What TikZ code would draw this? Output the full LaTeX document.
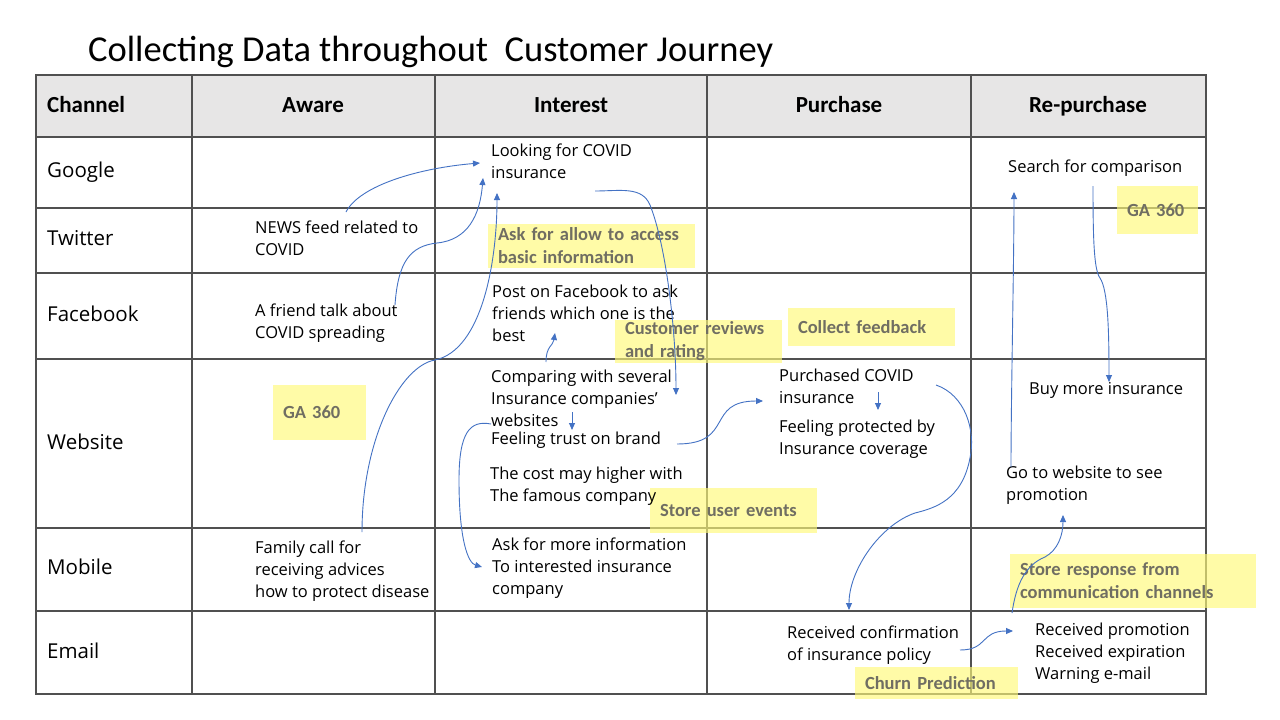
\documentclass[tikz,border=0pt]{standalone}
\usepackage{fontspec}
\setmainfont{Open Sans}
\newfontfamily\calfont{Carlito}
\usetikzlibrary{arrows.meta}

\definecolor{tableline}{RGB}{80,80,80}
\definecolor{headfill}{RGB}{231,230,230}
\definecolor{arrowblue}{RGB}{68,114,196}
\definecolor{hlyellow}{RGB}{255,250,120}
\definecolor{labgray}{RGB}{112,110,98}

\tikzset{
  grid/.style={draw=tableline, line width=1.2pt},
  cell/.style={anchor=north west, inner sep=0pt, align=left, font=\fontsize{16.5}{22}\selectfont},
  chan/.style={anchor=base west, inner sep=0pt, font=\fontsize{20.5}{24}\selectfont},
  head/.style={anchor=base, inner sep=0pt, font=\calfont\bfseries\fontsize{23}{26}\selectfont},
  hilite/.style={fill=hlyellow, fill opacity=0.65, text opacity=1, text=labgray, inner xsep=10pt, inner ysep=0pt,
    align=left, font=\calfont\bfseries\fontsize{18.5}{23}\selectfont},
  flow/.style={draw=arrowblue, line width=0.9pt, -{Triangle[length=7pt,width=6pt]}}
}

\begin{document}
\begin{tikzpicture}[x=1pt, y=-1pt]
    \useasboundingbox[fill=white] (0,0) rectangle (1280,720);

    \node[anchor=base west, inner sep=0pt, font=\calfont\fontsize{36.5}{40}\selectfont] (title) at (88,61) {Collecting Data throughout\ \ Customer Journey};

    \fill[headfill] (36,75) rectangle (1206,137);

    \draw[grid] (36,75) rectangle (1206,694);
    \draw[grid] (36,137)--(1206,137);
    \draw[grid] (36,208)--(1206,208);
    \draw[grid] (36,273)--(1206,273);
    \draw[grid] (36,359)--(1206,359);
    \draw[grid] (36,528)--(1206,528);
    \draw[grid] (36,611)--(1206,611);
    \draw[grid] (192,75)--(192,694);
    \draw[grid] (435,75)--(435,694);
    \draw[grid] (707,75)--(707,694);
    \draw[grid] (971,75)--(971,694);

    \node[head, anchor=base west] (hChannel) at (47,112) {Channel};
    \node[head] (hAware) at (313,112) {Aware};
    \node[head] (hInterest) at (571,112) {Interest};
    \node[head] (hPurchase) at (839,112) {Purchase};
    \node[head] (hRepurchase) at (1088,112) {Re-purchase};

    \node[chan] (cGoogle) at (47,177) {Google};
    \node[chan] (cTwitter) at (47,245) {Twitter};
    \node[chan] (cFacebook) at (47,321) {Facebook};
    \node[chan] (cWebsite) at (47,449) {Website};
    \node[chan] (cMobile) at (47,574) {Mobile};
    \node[chan] (cEmail) at (47,658) {Email};

    \node[hilite, minimum width=207pt, minimum height=44pt, text width=187pt] (yAsk) at (591.5,246) {Ask for allow to access\\basic information};
    \node[hilite, minimum width=167pt, minimum height=43pt, text width=147pt] (yReview) at (698.5,341.5) {Customer reviews\\and rating};
    \node[hilite, minimum width=167pt, minimum height=38pt, text width=147pt] (yFeedback) at (871.5,327) {Collect feedback};
    \node[hilite, minimum width=81pt, minimum height=48pt, text width=61pt] (yGaRight) at (1157.5,210) {GA 360};
    \node[hilite, minimum width=93pt, minimum height=55pt, text width=73pt] (yGaLeft) at (319.5,412.5) {GA 360};
    \node[hilite, minimum width=167pt, minimum height=45pt, text width=147pt] (yEvents) at (733.5,510.5) {Store user events};
    \node[hilite, minimum width=246pt, minimum height=54pt, text width=226pt] (yResponse) at (1133,581) {Store response from\\communication channels};
    \node[hilite, minimum width=163pt, minimum height=32pt, text width=143pt] (yChurn) at (936.5,683) {Churn Prediction};

    \node[cell] (tLook) at (491,144) {Looking for COVID\\insurance};
    \node[cell] (tNews) at (255,221) {NEWS feed related to\\COVID};
    \node[cell] (tPost) at (492,285) {Post on Facebook to ask\\friends which one is the\\best};
    \node[cell] (tFriend) at (255,304) {A friend talk about\\COVID spreading};
    \node[cell] (tCompare) at (491,370) {Comparing with several\\Insurance companies’\\websites};
    \node[cell] (tTrust) at (491,432) {Feeling trust on brand};
    \node[cell] (tCost) at (490,467) {The cost may higher with\\The famous company};
    \node[cell] (tPurch) at (779,369) {Purchased COVID\\insurance};
    \node[cell] (tProt) at (779,420) {Feeling protected by\\Insurance coverage};
    \node[cell] (tSearch) at (1008,160) {Search for comparison};
    \node[cell] (tBuyMore) at (1029,382) {Buy more insurance};
    \node[cell] (tGoWeb) at (1006,466) {Go to website to see\\promotion};
    \node[cell] (tFamily) at (255,541) {Family call for\\receiving advices\\how to protect disease};
    \node[cell] (tAskMore) at (492,538) {Ask for more information\\To interested insurance\\company};
    \node[cell] (tConfirm) at (787,626) {Received confirmation\\of insurance policy};
    \node[cell] (tPromo) at (1035,623) {Received promotion\\Received expiration\\Warning e-mail};

    \coordinate (newsOut) at (346,212);
    \coordinate (lookInA) at (480,163);
    \coordinate (friendOut) at (395,305);
    \coordinate (lookInB) at (483,178);
    \coordinate (familyOut) at (362,532);
    \coordinate (lookInC) at (497,193);
    \coordinate (lookOut) at (595,191);
    \coordinate (compareIn) at (676,395);
    \coordinate (compareUp) at (546,362);
    \coordinate (postIn) at (555,333);
    \coordinate (siteOut) at (572,412);
    \coordinate (trustIn) at (572,430);
    \coordinate (webOut) at (491,424);
    \coordinate (askMoreIn) at (482,567);
    \coordinate (trustOut) at (677,444);
    \coordinate (purchIn) at (763,401);
    \coordinate (purchDown) at (878,392);
    \coordinate (protIn) at (878,410);
    \coordinate (purchOut) at (936,385);
    \coordinate (confirmIn) at (849,610);
    \coordinate (confirmOut) at (960,650);
    \coordinate (promoIn) at (1013,631);
    \coordinate (promoUp) at (1012,613);
    \coordinate (goWebIn) at (1063,515);
    \coordinate (goWebOut) at (1011,467);
    \coordinate (searchIn) at (1014,192);
    \coordinate (searchOut) at (1093,186);
    \coordinate (buyMoreIn) at (1109,382);

    \draw[flow] (newsOut) .. controls (360,185) and (420,168) .. (lookInA);
    \draw[flow] (friendOut) .. controls (398,262) and (410,246) .. (437,243) .. controls (468,240) and (480,215) .. (lookInB);
    \draw[flow] (familyOut) .. controls (362,440) and (400,366) .. (435,360) .. controls (482,350) and (497,262) .. (lookInC);
    \draw[flow] (lookOut) .. controls (620,191) and (642,186) .. (650,205) .. controls (666,245) and (676,330) .. (compareIn);
    \draw[flow] (compareUp) .. controls (546,346) and (553,346) .. (postIn);
    \draw[flow] (siteOut) -- (trustIn);
    \draw[flow] (webOut) .. controls (470,420) and (459,432) .. (459,480) .. controls (459,540) and (468,563) .. (askMoreIn);
    \draw[flow] (trustOut) .. controls (735,444) and (705,401) .. (purchIn);
    \draw[flow] (purchDown) -- (protIn);
    \draw[flow] (purchOut) .. controls (965,395) and (976,430) .. (970,458) .. controls (962,500) and (935,508) .. (915,513) .. controls (880,525) and (849,570) .. (confirmIn);
    \draw[flow] (confirmOut) .. controls (988,650) and (980,631) .. (promoIn);
    \draw[flow] (promoUp) .. controls (1016,585) and (1025,565) .. (1045,557) .. controls (1058,550) and (1063,535) .. (goWebIn);
    \draw[flow] (goWebOut) .. controls (1011,400) and (1014,260) .. (searchIn);
    \draw[flow] (searchOut) .. controls (1093,240) and (1094,270) .. (1100,278) .. controls (1108,290) and (1109,330) .. (buyMoreIn);
  \end{tikzpicture}
\end{document}
